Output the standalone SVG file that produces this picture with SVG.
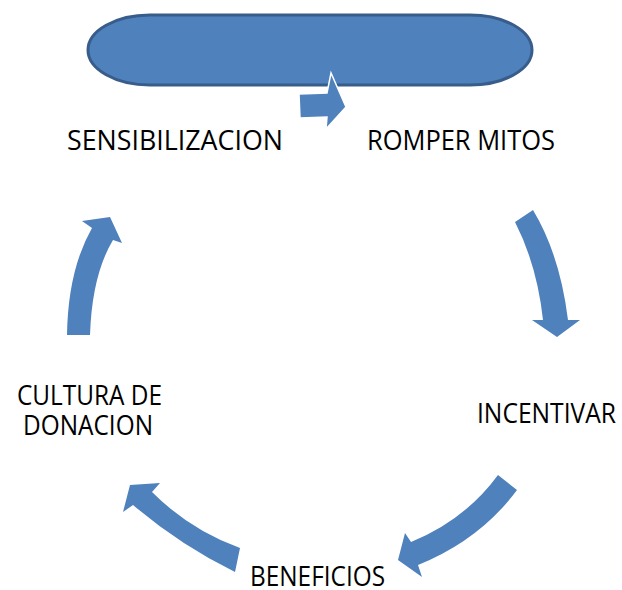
<svg xmlns="http://www.w3.org/2000/svg" width="622" height="590" viewBox="0 0 622 590">
<style>
.arrow{fill:#4F81BD;stroke:none}
.lbl{font-family:"Open Sans","Liberation Sans",Arial,sans-serif;font-size:27px;fill:#000}
</style>
<rect width="622" height="590" fill="#fff"/>
<g id="header">
<rect x="88" y="15" width="444" height="70" rx="62" ry="35" fill="#4F81BD" stroke="#385D8A" stroke-width="3"/>
</g>
<g id="connectors">
<path class="arrow" d="M299,94 L327,93 L331,73 L346,107 L326,129 L327,117 L300,118 Z" style="stroke:#fff;stroke-width:1.5"/>
<path class="arrow" d="M515,222 L533,210 Q560,255 568,320 L580,320 L557,337 L532,320 L543,320 Q537,265 515,222 Z"/>
<path class="arrow" d="M498,475 L517,490 Q480,540 418,565 L422,577 L398,560 L405,533 L411,542 Q465,520 498,475 Z"/>
<path class="arrow" d="M240,548 L235,572 Q180,545 133,505 L123,512 L130,485 L160,483 L152,492 Q190,530 240,548 Z"/>
<path class="arrow" d="M67,335 L90,335 Q92,275 113,240 L122,243 L110,217 L82,221 L92,228 Q68,270 67,335 Z"/>
</g>
<g id="n-sensibilizacion"><text class="lbl" x="67" y="150" textLength="216" lengthAdjust="spacingAndGlyphs">SENSIBILIZACION</text></g>
<g id="n-romper"><text class="lbl" x="367" y="150" textLength="188" lengthAdjust="spacingAndGlyphs">ROMPER MITOS</text></g>
<g id="n-incentivar"><text class="lbl" x="477" y="423" textLength="139" lengthAdjust="spacingAndGlyphs">INCENTIVAR</text></g>
<g id="n-beneficios"><text class="lbl" x="250" y="586" textLength="135" lengthAdjust="spacingAndGlyphs">BENEFICIOS</text></g>
<g id="n-cultura"><text class="lbl" x="17" y="405" textLength="145" lengthAdjust="spacingAndGlyphs">CULTURA DE</text><text class="lbl" x="23" y="435" textLength="130" lengthAdjust="spacingAndGlyphs">DONACION</text></g>
</svg>
